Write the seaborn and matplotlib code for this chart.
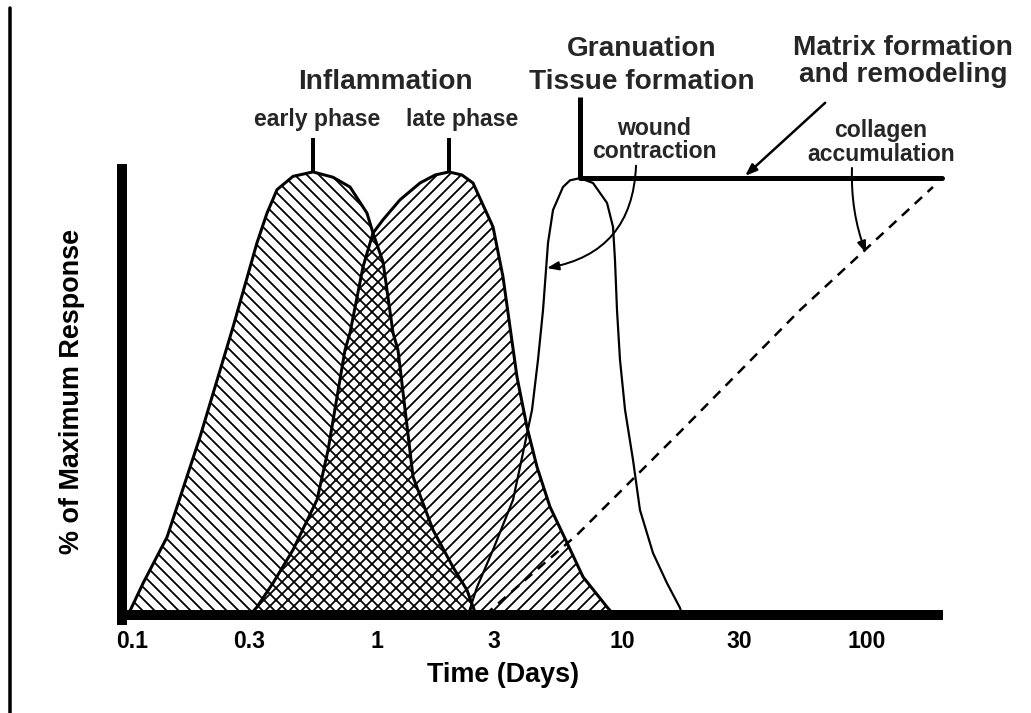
import matplotlib
matplotlib.use('Agg')
from matplotlib import pyplot as plt
from matplotlib.lines import Line2D
from matplotlib.ticker import NullLocator
import numpy as np
import seaborn as sns

# values: time in days, response in % of maximum
early_t = [0.0963, 0.111, 0.139, 0.1895, 0.2584, 0.3236, 0.3556, 0.3907, 0.454,
           0.548, 0.661, 0.776, 0.910, 0.963, 1.058, 1.162, 1.218, 1.403, 1.693,
           2.043, 2.330, 2.535]
early_p = [0, 7.2, 17.6, 40.2, 65.0, 84.0, 90.7, 96.0, 99.0,
           100, 98.8, 96.6, 90.7, 86.2, 79.7, 63.7, 59.8, 31.2, 19.2,
           10.8, 5.6, 0]

late_t = [0.303, 0.3236, 0.3762, 0.454, 0.569, 0.631, 0.740, 0.776, 0.877, 0.963,
          1.058, 1.241, 1.498, 1.725, 1.967, 2.223, 2.465, 2.975, 3.268, 3.490,
          3.728, 4.095, 4.499, 5.083, 5.965, 6.932, 8.687, 9.276]
late_p = [0, 1.8, 7.2, 14.7, 26.0, 37.2, 59.8, 63.7, 78.6, 86.2,
          89.2, 93.7, 97.5, 99.3, 100, 99.3, 97.5, 87.6, 76.3, 65.0,
          53.7, 42.4, 33.4, 24.4, 16.3, 8.6, 1.8, 0]

gran_t = [2.352, 2.560, 2.975, 3.591, 3.944, 4.293, 4.541, 4.760, 4.896, 4.989,
          5.229, 5.744, 6.135, 6.740, 7.614, 8.687, 9.190, 9.363, 9.541, 9.813,
          10.29, 11.09, 11.84, 13.38, 15.26, 17.25, 17.58]
gran_p = [0, 6.3, 14.7, 26.0, 36.6, 46.3, 57.6, 68.8, 77.9, 84.0,
          91.4, 96.6, 98.1, 98.6, 97.5, 93.0, 87.6, 80.1, 68.8, 57.6,
          46.3, 35.0, 23.7, 14.0, 7.2, 1.6, 0]

collagen_t = [2.759, 6.552, 17.25, 53.27, 185.9]
collagen_p = [0, 18.1, 41.3, 68.8, 96.6]

matrix_t = [6.74, 202.3]
matrix_p = [98.6, 98.6]

tick_vals = [0.1, 0.3, 1, 3, 10, 30, 100]
tick_labels = ['0.1', '0.3', '1', '3', '10', '30', '100']

sns.set_theme(style='white')
plt.rcParams['font.family'] = ['Liberation Sans', 'DejaVu Sans']
plt.rcParams['font.weight'] = 'bold'
plt.rcParams['axes.labelweight'] = 'bold'
plt.rcParams['hatch.linewidth'] = 1.8
plt.rcParams['hatch.color'] = 'black'

fig = plt.figure(figsize=(1031 / 72, 713 / 72), dpi=72)
ax = fig.add_axes([122 / 1031, 98 / 713, 823 / 1031, 615 / 713])
ax.set_xscale('log')
ax.set_xlim(0.091, 208.2)
ax.set_ylim(0, 138.8)

# hatched inflammation phases (the overlap becomes cross-hatched)
ax.fill_between(early_t, early_p, 0, facecolor='none', edgecolor='black',
                hatch='\\\\', lw=0)
ax.fill_between(late_t, late_p, 0, facecolor='none', edgecolor='black',
                hatch='//', lw=0)

for t, p, lw in [(early_t, early_p, 3), (late_t, late_p, 3), (gran_t, gran_p, 2.2)]:
    sns.lineplot(x=t, y=p, ax=ax, color='black', lw=lw, sort=False, estimator=None)
sns.lineplot(x=collagen_t, y=collagen_p, ax=ax, color='black', lw=2.5,
             linestyle=(0, (4, 3)), sort=False, estimator=None)
sns.lineplot(x=matrix_t, y=matrix_p, ax=ax, color='black', lw=5,
             sort=False, estimator=None)

# markers above the peaks
early_pk = early_t[int(np.argmax(early_p))]
late_pk = late_t[int(np.argmax(late_p))]
gran_pk = gran_t[int(np.argmax(gran_p))]
ax.plot([early_pk, early_pk], [100, 107.7], color='black', lw=4, solid_capstyle='butt')
ax.plot([late_pk, late_pk], [100, 107.7], color='black', lw=4, solid_capstyle='butt')
ax.plot([gran_pk, gran_pk], [matrix_p[0], 116.9], color='black', lw=5, solid_capstyle='butt')

# labels
big = 28
small = 23
ax.text(1.078, 118.7, 'Inflammation', ha='center', va='baseline', fontsize=big)
ax.text(0.5717, 110.4, 'early phase', ha='center', va='baseline', fontsize=small)
ax.text(2.223, 110.4, 'late phase', ha='center', va='baseline', fontsize=small)
ax.text(12.07, 126.2, 'Granuation', ha='center', va='baseline', fontsize=big)
ax.text(12.07, 118.8, 'Tissue formation', ha='center', va='baseline', fontsize=big)
ax.text(140.3, 126.4, 'Matrix formation', ha='center', va='baseline', fontsize=big)
ax.text(140.3, 120.2, 'and remodeling', ha='center', va='baseline', fontsize=big)
ax.text(13.51, 108.4, 'wound', ha='center', va='baseline', fontsize=small)
ax.text(13.51, 103.2, 'contraction', ha='center', va='baseline', fontsize=small)
ax.text(114.0, 107.9, 'collagen', ha='center', va='baseline', fontsize=small)
ax.text(114.0, 102.5, 'accumulation', ha='center', va='baseline', fontsize=small)

head = dict(arrowstyle='-|>,head_length=0.8,head_width=0.3', color='black',
            shrinkA=0, shrinkB=0, mutation_scale=12)
ax.annotate('', xy=(4.942, 78.3), xytext=(11.41, 101.4),
            arrowprops=dict(head, lw=2, connectionstyle='arc3,rad=-0.4'))
ax.annotate('', xy=(31.8, 99.1), xytext=(67.5, 115.6),
            arrowprops=dict(head, lw=2.5))
ax.annotate('', xy=(99.06, 81.7), xytext=(86.87, 100.9),
            arrowprops=dict(head, lw=2, connectionstyle='arc3,rad=0.1'))

# axes
for s in ['top', 'right']:
    ax.spines[s].set_visible(False)
for s in ['left', 'bottom']:
    ax.spines[s].set_linewidth(10)
    ax.spines[s].set_color('black')
ax.spines['left'].set_bounds(-1.1, 100.7)
ax.spines['bottom'].set_bounds(0.091, 195)

ax.set_xticks(tick_vals)
ax.set_xticklabels(tick_labels)
ax.xaxis.set_minor_locator(NullLocator())
ax.set_yticks([])
ax.tick_params(axis='x', length=0, pad=15, labelsize=small, labelcolor='black')

ax.set_xlabel('Time (Days)', fontsize=27, fontweight='bold', color='black', va='center')
ax.xaxis.set_label_coords(0.463, -0.0976)
ax.set_ylabel('% of Maximum Response', fontsize=27, fontweight='bold', color='black',
              va='center')
ax.yaxis.set_label_coords(-0.0608, 0.364)

# thin frame line at the far left
fig.add_artist(Line2D([10 / 1031, 10 / 1031], [0, 1 - 8 / 713], color='black', lw=3.5))

fig.savefig('out.png', dpi=72)
